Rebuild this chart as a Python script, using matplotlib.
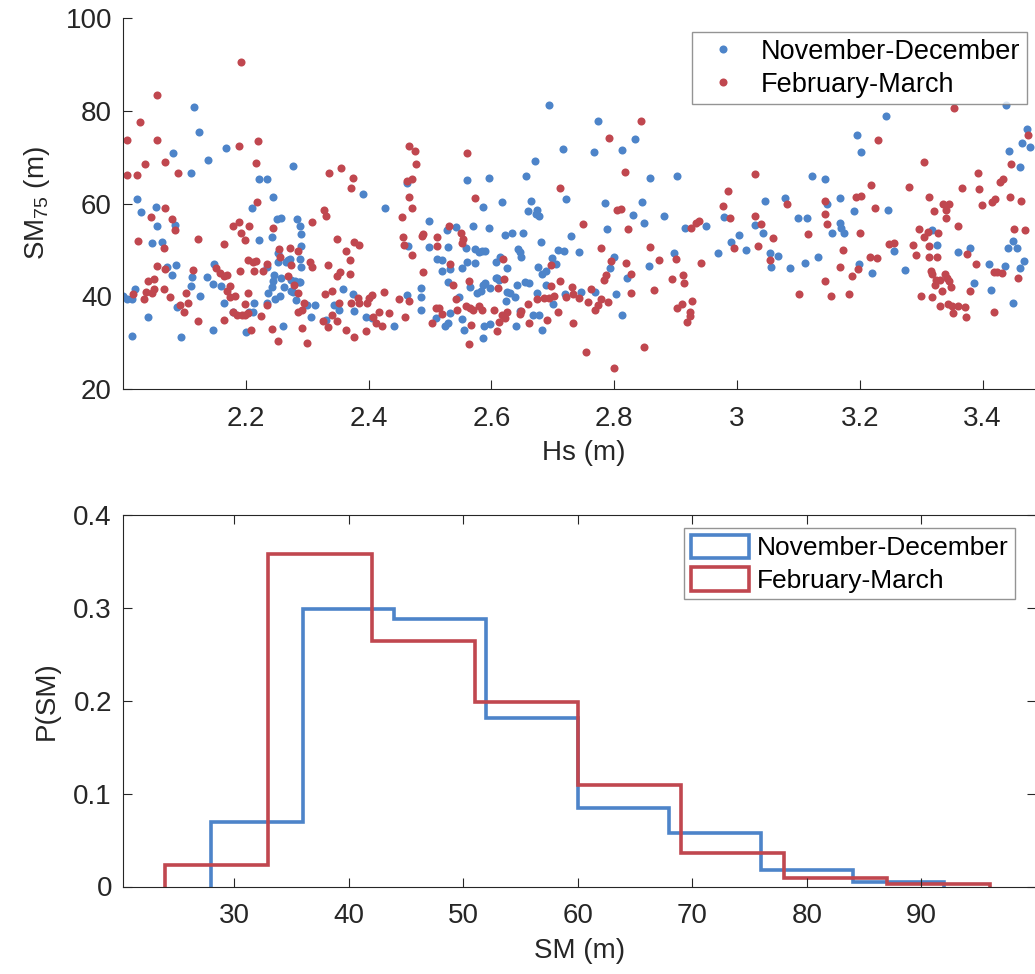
import matplotlib.pyplot as plt
from matplotlib.patches import Patch

plt.rcParams["font.family"] = ["Liberation Sans", "DejaVu Sans"]

BLUE = "#4d84c9"
RED = "#c0474f"
AXCOL = "#262626"

# --- scatter: Hs (m) vs SM75 (m) ---
nd_hs = [
    2.000, 2.006, 2.014, 2.019, 2.014, 2.023, 2.029, 2.040, 2.048, 2.053,
    2.056, 2.063, 2.071, 2.079, 2.081, 2.085, 2.087, 2.088, 2.094, 2.110,
    2.112, 2.110, 2.115, 2.123, 2.126, 2.137, 2.139, 2.146, 2.147, 2.148,
    2.159, 2.165, 2.168, 2.179, 2.201, 2.206, 2.212, 2.213, 2.210, 2.221,
    2.221, 2.235, 2.244, 2.242, 2.234, 2.234, 2.236, 2.242, 2.244, 2.246,
    2.250, 2.258, 2.253, 2.253, 2.255, 2.257, 2.248, 2.261, 2.262, 2.266,
    2.269, 2.272, 2.277, 2.273, 2.273, 2.277, 2.280, 2.282, 2.287, 2.289,
    2.284, 2.289, 2.290, 2.290, 2.288, 2.290, 2.299, 2.306, 2.313, 2.330,
    2.344, 2.351, 2.358, 2.374, 2.376, 2.391, 2.395, 2.405, 2.427, 2.441,
    2.462, 2.462, 2.464,
    2.486, 2.486, 2.486, 2.498, 2.498, 2.511, 2.519, 2.519, 2.509, 2.524,
    2.529, 2.533, 2.528, 2.530, 2.532, 2.529, 2.543, 2.548, 2.552, 2.552,
    2.555, 2.559, 2.560, 2.560, 2.565, 2.570, 2.574, 2.573, 2.577, 2.580,
    2.583, 2.585, 2.586, 2.587, 2.587, 2.590, 2.590, 2.588, 2.596, 2.596,
    2.598, 2.598, 2.607, 2.608, 2.609, 2.613, 2.614, 2.617, 2.622, 2.623,
    2.625, 2.626, 2.630, 2.634, 2.638, 2.640, 2.642, 2.644, 2.646, 2.648,
    2.647, 2.652, 2.655, 2.656, 2.659, 2.661, 2.664, 2.668, 2.671, 2.672,
    2.674, 2.677, 2.677, 2.674, 2.676, 2.680, 2.682, 2.682, 2.689, 2.689,
    2.694, 2.698, 2.701, 2.705, 2.709, 2.716, 2.719, 2.720, 2.722, 2.730,
    2.743, 2.746, 2.767, 2.769, 2.774, 2.785, 2.789, 2.793, 2.799, 2.803,
    2.812, 2.812, 2.821, 2.830, 2.834, 2.846, 2.848, 2.857, 2.858, 2.881,
    2.898, 2.903, 2.915, 2.950, 2.969,
    2.979, 2.990, 3.003, 3.014, 3.029, 3.042, 3.045, 3.053, 3.055, 3.067,
    3.078, 3.087, 3.100, 3.110, 3.114, 3.122, 3.132, 3.144, 3.147, 3.155,
    3.167, 3.167, 3.170, 3.175, 3.191, 3.195, 3.198, 3.202, 3.220, 3.243,
    3.246, 3.256, 3.274, 3.317, 3.325, 3.360, 3.380, 3.386, 3.410, 3.413,
    3.436, 3.441, 3.450, 3.456, 3.449, 3.461, 3.467, 3.438, 3.443, 3.461,
    3.464, 3.472, 3.477,
]
nd_sm = [
    40.1, 39.3, 39.3, 41.6, 31.5, 61.0, 58.2, 35.6, 51.4, 59.3,
    55.1, 51.8, 46.2, 44.6, 70.8, 55.4, 46.8, 37.6, 31.2, 66.6,
    44.1, 42.2, 80.9, 75.5, 40.0, 44.1, 69.3, 42.6, 32.7, 46.9,
    42.2, 38.6, 72.0, 36.7, 32.2, 36.7, 36.7, 38.6, 59.1, 52.2,
    65.3, 65.3, 61.3, 52.8, 46.2, 38.6, 40.8, 41.9, 43.3, 44.6,
    56.7, 56.9, 47.3, 49.3, 40.1, 43.9, 39.3, 33.5, 41.9, 47.3,
    47.8, 48.0, 68.1, 43.6, 41.2, 41.0, 43.3, 39.1, 43.1, 43.1,
    56.7, 55.1, 53.5, 50.8, 48.0, 46.3, 38.1, 35.6, 38.1, 34.8,
    38.1, 37.0, 41.5, 40.5, 36.8, 62.1, 35.6, 35.3, 59.1, 33.5,
    40.3, 64.5, 50.8,
    41.8, 39.8, 37.1, 56.3, 50.7, 48.1, 47.8, 45.5, 35.3, 33.5,
    34.2, 36.4, 54.2, 50.7, 45.8, 43.1, 54.9, 39.8, 46.0, 35.1,
    32.7, 50.5, 47.4, 65.1, 42.0, 55.2, 50.2, 47.1, 40.7, 49.5,
    41.2, 49.8, 42.5, 31.1, 59.3, 49.8, 42.9, 33.5, 65.5, 54.8,
    34.0, 41.7, 43.9, 47.3, 44.0, 43.4, 48.4, 60.4, 53.2, 38.9,
    40.9, 46.0, 40.6, 53.6, 39.8, 33.5, 42.5, 50.2, 49.5, 48.4,
    36.9, 53.6, 43.1, 66.0, 58.4, 42.9, 60.5, 36.0, 69.2, 57.8,
    58.5, 57.3, 36.0, 40.7, 46.3, 51.8, 44.9, 32.7, 42.4, 45.5,
    81.3, 48.2, 38.3, 47.0, 50.0, 71.8, 49.8, 40.5, 60.9, 52.9,
    49.6, 40.9, 71.1, 40.9, 77.7, 60.2, 54.5, 46.0, 48.5, 40.5,
    71.6, 36.0, 44.0, 57.6, 74.0, 60.4, 55.8, 46.5, 65.5, 57.3,
    49.4, 66.0, 54.8, 55.1, 49.4,
    57.1, 51.7, 53.2, 50.0, 55.3, 53.6, 60.6, 49.4, 46.3, 48.7,
    61.1, 46.0, 56.9, 47.1, 56.9, 66.0, 48.5, 65.3, 59.9, 53.7,
    61.1, 55.9, 54.8, 53.7, 58.4, 74.8, 46.9, 71.1, 45.0, 78.9,
    58.7, 49.8, 45.7, 54.2, 51.0, 49.5, 50.4, 42.9, 46.9, 41.4,
    46.5, 50.4, 51.9, 50.5, 38.5, 46.1, 47.6, 81.2, 71.4, 67.8,
    73.1, 76.0, 72.1,
]

fm_hs = [
    2.006, 2.006, 2.022, 2.028, 2.055, 2.056, 2.036, 2.068, 2.089, 2.025,
    2.046, 2.068, 2.079, 2.085, 2.066, 2.056, 2.068, 2.041, 2.050, 2.067,
    2.035, 2.038, 2.047, 2.050, 2.016, 2.076, 2.093, 2.099, 2.102, 2.106,
    2.114, 2.122, 2.122, 2.165, 2.189, 2.192, 2.220, 2.216, 2.219, 2.179,
    2.189, 2.192, 2.198, 2.205, 2.244, 2.152, 2.158, 2.164, 2.170, 2.175,
    2.169, 2.165, 2.174, 2.182, 2.190, 2.204, 2.212, 2.217, 2.213, 2.204,
    2.199, 2.179, 2.185, 2.193, 2.198, 2.204, 2.209, 2.224, 2.228, 2.234,
    2.235, 2.243, 2.252, 2.254, 2.256, 2.272, 2.273, 2.268, 2.279, 2.285,
    2.285, 2.285, 2.291, 2.291, 2.294, 2.299, 2.308, 2.305, 2.308, 2.328,
    2.331, 2.335, 2.349, 2.334, 2.329, 2.341, 2.325, 2.334, 2.341, 2.349,
    2.349, 2.354, 2.352, 2.355, 2.363, 2.370, 2.370, 2.375, 2.372, 2.372,
    2.364, 2.376, 2.377, 2.385, 2.383, 2.385, 2.395, 2.397, 2.401, 2.405,
    2.407, 2.412, 2.417, 2.422, 2.425, 2.434, 2.449, 2.459, 2.465, 2.456,
    2.457, 2.454, 2.470, 2.466, 2.475, 2.477, 2.463, 2.471, 2.465, 2.470,
    2.489, 2.487, 2.489, 2.503, 2.511, 2.511, 2.510, 2.514, 2.520, 2.531,
    2.532, 2.537, 2.544, 2.542, 2.551, 2.553, 2.552, 2.561, 2.564, 2.559,
    2.565, 2.570, 2.566, 2.564, 2.573, 2.580, 2.584, 2.605, 2.610, 2.609,
    2.613, 2.619, 2.620, 2.618, 2.622, 2.626, 2.646, 2.649, 2.659, 2.662,
    2.675, 2.686, 2.693, 2.691, 2.697, 2.697, 2.702, 2.708, 2.711, 2.711,
    2.722, 2.732, 2.733, 2.733, 2.742, 2.749, 2.754, 2.758, 2.762, 2.769,
    2.774, 2.778, 2.779, 2.784, 2.786, 2.790, 2.791, 2.795, 2.800, 2.805,
    2.811, 2.817, 2.822, 2.819, 2.827, 2.828, 2.843, 2.848, 2.858, 2.865,
    2.873, 2.894, 2.900, 2.912, 2.914, 2.903, 2.911, 2.923, 2.923, 2.919,
    2.927, 2.941, 2.925, 2.933, 2.938,
    2.977, 2.986, 2.988, 2.995, 3.030, 3.029, 3.039, 3.035, 3.059, 3.053,
    3.082, 3.101, 3.116, 3.143, 3.144, 3.147, 3.144, 3.153, 3.168, 3.172,
    3.182, 3.187, 3.194, 3.202, 3.197, 3.200, 3.216, 3.219, 3.224, 3.229,
    3.228, 3.248, 3.255, 3.280, 3.287, 3.291, 3.297, 3.299, 3.304, 3.305,
    3.311, 3.312, 3.313, 3.313, 3.316, 3.317, 3.318, 3.321, 3.322, 3.324,
    3.325, 3.328, 3.330, 3.330, 3.334, 3.336, 3.339, 3.340, 3.341, 3.342,
    3.344, 3.345, 3.346, 3.348, 3.350, 3.352, 3.353, 3.360, 3.360, 3.367,
    3.371, 3.373, 3.375, 3.380, 3.389, 3.393, 3.394, 3.399, 3.415, 3.420,
    3.418, 3.418, 3.423, 3.432, 3.429, 3.434, 3.447, 3.445, 3.451, 3.462,
    3.469, 3.474, 3.457,
]
fm_sm = [
    73.8, 66.2, 66.2, 77.6, 83.5, 73.6, 68.6, 69.0, 66.6, 51.9,
    57.1, 59.1, 56.7, 54.3, 50.4, 46.5, 45.9, 43.3, 43.8, 41.6,
    39.5, 41.0, 40.8, 41.5, 40.5, 39.9, 38.2, 36.7, 40.8, 38.6,
    45.7, 52.4, 34.7, 51.3, 72.5, 90.5, 73.5, 68.7, 60.4, 55.1,
    56.0, 53.7, 52.2, 55.2, 54.8, 46.0, 45.1, 44.4, 44.5, 42.3,
    41.2, 34.9, 39.8, 40.0, 45.5, 47.9, 47.4, 47.6, 45.5, 40.8,
    38.4, 36.6, 36.0, 36.0, 36.0, 36.4, 32.7, 35.7, 45.5, 46.9,
    38.2, 33.0, 30.3, 50.2, 48.4, 50.4, 46.7, 44.3, 42.5, 49.7,
    40.8, 36.6, 37.1, 33.1, 38.6, 30.0, 56.0, 47.3, 46.3, 58.7,
    57.3, 66.6, 52.4, 46.8, 40.5, 41.1, 34.7, 33.4, 36.0, 34.7,
    44.4, 45.3, 38.6, 67.7, 49.7, 47.8, 44.8, 65.5, 63.4, 38.6,
    32.7, 31.2, 51.7, 51.1, 39.7, 38.6, 32.5, 38.6, 39.6, 40.3,
    35.6, 34.2, 36.5, 33.5, 41.0, 36.3, 39.3, 35.5, 38.9, 52.8,
    51.0, 57.1, 49.0, 72.4, 71.3, 68.5, 64.8, 65.2, 61.5, 59.0,
    53.5, 53.0, 45.2, 34.3, 52.7, 50.8, 37.5, 37.5, 36.2, 55.1,
    46.9, 42.5, 37.0, 39.4, 53.6, 52.4, 51.5, 70.8, 43.3, 38.0,
    37.5, 37.1, 33.7, 29.7, 61.2, 38.0, 37.1, 37.0, 41.7, 32.4,
    34.4, 48.0, 43.8, 36.0, 35.3, 36.6, 36.2, 36.9, 38.3, 34.3,
    39.4, 39.6, 39.6, 34.8, 42.3, 46.8, 40.1, 36.6, 43.3, 63.4,
    39.8, 42.0, 40.4, 34.3, 39.6, 55.6, 28.0, 38.8, 41.6, 37.1,
    38.2, 50.4, 39.5, 43.6, 44.6, 38.7, 74.2, 47.6, 24.6, 58.5,
    58.9, 66.7, 54.5, 47.2, 44.7, 40.7, 77.7, 29.1, 50.7, 41.3,
    47.9, 43.8, 48.1, 44.6, 42.9, 37.5, 38.3, 36.7, 35.8, 34.5,
    38.9, 47.2, 54.8, 55.8, 56.2,
    59.5, 62.8, 56.9, 50.4, 66.4, 57.3, 55.6, 50.8, 52.6, 47.8,
    60.0, 40.4, 53.5, 60.6, 57.7, 55.6, 43.3, 40.1, 46.3, 50.0,
    40.5, 44.4, 61.5, 61.6, 45.8, 53.6, 48.4, 64.0, 59.1, 73.6,
    48.2, 51.3, 51.4, 63.6, 51.1, 48.9, 54.5, 40.1, 68.9, 52.7,
    53.8, 50.8, 61.5, 48.4, 45.5, 39.9, 44.7, 58.4, 42.5, 43.6,
    48.5, 53.6, 38.0, 43.6, 41.2, 60.0, 44.7, 56.9, 58.5, 44.0,
    38.3, 59.8, 43.3, 42.0, 38.0, 36.3, 80.7, 55.1, 38.0, 63.4,
    37.6, 35.5, 49.2, 41.1, 46.9, 66.5, 63.1, 59.6, 60.4, 60.9,
    36.6, 45.2, 45.2, 45.1, 64.7, 65.3, 68.6, 61.5, 54.5, 60.5,
    54.2, 74.8, 43.9,
]

# --- histograms: P(SM) ---
nd_edges = [28, 36, 44, 52, 60, 68, 76, 84, 92]
nd_prob = [0.069, 0.299, 0.288, 0.181, 0.085, 0.058, 0.018, 0.005]
fm_edges = [24, 33, 42, 51, 60, 69, 78, 87, 96]
fm_prob = [0.023, 0.358, 0.264, 0.199, 0.109, 0.036, 0.009, 0.003]

labels = ["November-December", "February-March"]


def style_axes(ax, box):
    for side in ["left", "bottom", "top", "right"]:
        ax.spines[side].set_color(AXCOL)
        ax.spines[side].set_linewidth(0.8)
    ax.spines["top"].set_visible(box)
    ax.spines["right"].set_visible(box)
    ax.tick_params(
        direction="in", length=6.5, width=0.8, color=AXCOL,
        labelcolor=AXCOL, labelsize=20, top=box, right=box,
    )
    ax.tick_params(axis="x", pad=12)
    ax.tick_params(axis="y", pad=8)


fig = plt.figure(figsize=(10.35, 9.74), dpi=100)

ax1 = fig.add_axes([123 / 1035, 1 - 389 / 974, 921 / 1035, 371 / 974])
ax1.plot(nd_hs, nd_sm, "o", color=BLUE, markersize=5.8, markeredgewidth=0,
         label=labels[0])
ax1.plot(fm_hs, fm_sm, "o", color=RED, markersize=5.8, markeredgewidth=0,
         label=labels[1])
ax1.set_xlim(2.0, 3.5)
ax1.set_ylim(20, 100)
ax1.set_xticks([2.2, 2.4, 2.6, 2.8, 3.0, 3.2, 3.4])
ax1.set_xticklabels(["2.2", "2.4", "2.6", "2.8", "3", "3.2", "3.4"])
ax1.set_yticks([20, 40, 60, 80, 100])
style_axes(ax1, box=False)
ax1.set_xlabel("Hs (m)", fontsize=20, color=AXCOL, labelpad=6)
ax1.set_ylabel(r"$\mathregular{SM_{75}}$ (m)", fontsize=20, color=AXCOL,
               labelpad=10)
leg1 = ax1.legend(loc="upper right", bbox_to_anchor=(1027 / 1035, 1 - 32 / 974),
                  bbox_transform=fig.transFigure, fontsize=19.5, frameon=True,
                  fancybox=False, edgecolor="#7a7a7a", handletextpad=0.5,
                  borderpad=0.25, labelspacing=0.25, handlelength=1.8,
                  borderaxespad=0)
leg1.get_frame().set_linewidth(1.0)

ax2 = fig.add_axes([123 / 1035, 1 - 886.5 / 974, 913 / 1035, 371.5 / 974])
ax2.stairs(nd_prob, nd_edges, color=BLUE, linewidth=2.6)
ax2.stairs(fm_prob, fm_edges, color=RED, linewidth=2.6)
ax2.set_xlim(20.3, 100)
ax2.set_ylim(0, 0.4)
ax2.set_xticks([30, 40, 50, 60, 70, 80, 90])
ax2.set_yticks([0, 0.1, 0.2, 0.3, 0.4])
ax2.set_yticklabels(["0", "0.1", "0.2", "0.3", "0.4"])
style_axes(ax2, box=True)
ax2.set_xlabel("SM (m)", fontsize=20, color=AXCOL, labelpad=6)
ax2.set_ylabel("P(SM)", fontsize=20, color=AXCOL, labelpad=10)
hist_handles = [
    Patch(facecolor="none", edgecolor=BLUE, linewidth=2.6),
    Patch(facecolor="none", edgecolor=RED, linewidth=2.6),
]
leg2 = ax2.legend(hist_handles, labels, loc="upper right",
                  bbox_to_anchor=(1015 / 1035, 1 - 528 / 974),
                  bbox_transform=fig.transFigure, fontsize=19, frameon=True,
                  fancybox=False, edgecolor="#7a7a7a", handletextpad=0.3,
                  borderpad=0.25, labelspacing=0.25, handlelength=2.2,
                  handleheight=1.0, borderaxespad=0)
leg2.get_frame().set_linewidth(1.0)

fig.savefig("out.png", dpi=100)
plt.close(fig)
